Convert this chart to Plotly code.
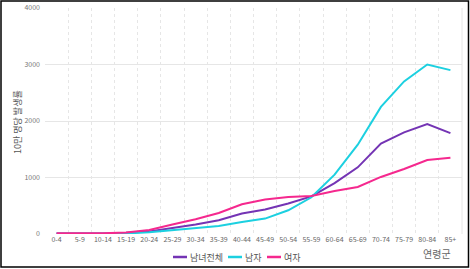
import plotly.graph_objects as go

ages = ["0-4", "5-9", "10-14", "15-19", "20-24", "25-29", "30-34", "35-39", "40-44",
        "45-49", "50-54", "55-59", "60-64", "65-69", "70-74", "75-79", "80-84", "85+"]
total = [10, 8, 10, 20, 45, 106, 167, 245, 362, 432, 540, 665, 900, 1180, 1600, 1800, 1945, 1785]
male = [8, 5, 5, 10, 30, 65, 96, 142, 213, 273, 420, 650, 1050, 1580, 2250, 2700, 3000, 2900]
female = [12, 10, 12, 25, 70, 167, 262, 372, 527, 610, 656, 673, 760, 833, 1010, 1150, 1310, 1350]

series = [("남녀전체", total, "#7434b4"), ("남자", male, "#1cd0e0"), ("여자", female, "#f5288e")]

FONT = "Noto Sans CJK KR"
fig = go.Figure()
for name, vals, col in series:
    fig.add_trace(go.Scatter(x=ages, y=vals, name=name, mode="lines",
                             line=dict(color=col, width=2), showlegend=False))

W, H = 470, 269
ml, mr, mt, mb = 45, 8, 8, 35
pw, ph = W - ml - mr, H - mt - mb

def px(x):
    return (x - ml) / pw

def py(y):
    return (H - mb - y) / ph

# custom legend (short line + label)
legend_x = [173, 228, 267]
legend_y = 257
shapes = []
annotations = []
for (name, _, col), lx in zip(series, legend_x):
    shapes.append(dict(type="line", xref="paper", yref="paper",
                       x0=px(lx), x1=px(lx + 14), y0=py(legend_y), y1=py(legend_y),
                       line=dict(color=col, width=2.5)))
    annotations.append(dict(text=name, xref="paper", yref="paper", x=px(lx + 15), y=py(legend_y),
                            xanchor="left", yanchor="middle", showarrow=False,
                            font=dict(size=9, color="#555")))

annotations.append(dict(text="연령군", xref="paper", yref="paper", x=px(453), y=py(253),
                        xanchor="right", yanchor="middle", showarrow=False,
                        font=dict(size=10, color="#666")))
annotations.append(dict(text="10만 명당 발생률", xref="paper", yref="paper", x=px(17), y=py(122),
                        xanchor="center", yanchor="middle", showarrow=False, textangle=-90,
                        font=dict(size=9, color="#555")))

shapes.append(dict(type="line", xref="paper", yref="paper", x0=1, x1=1, y0=0, y1=1,
                   line=dict(color="#e6e6e6", width=1)))
shapes.append(dict(type="rect", xref="paper", yref="paper",
                   x0=-(ml - 1) / pw, x1=1 + (mr - 1.5) / pw,
                   y0=-(mb - 2) / ph, y1=1 + (mt - 1) / ph,
                   line=dict(color="black", width=1.5), layer="above"))

fig.update_layout(
    width=W, height=H,
    margin=dict(l=ml, r=mr, t=mt, b=mb, autoexpand=False),
    paper_bgcolor="white", plot_bgcolor="white",
    font=dict(family=FONT, size=8, color="#666"),
    showlegend=False,
    xaxis=dict(type="category", tickson="boundaries", ticks="", showgrid=True,
               gridcolor="#e6e6e6", griddash="dot", gridwidth=1, tickangle=0,
               automargin=False,
               tickfont=dict(size=7, color="#666"), showline=False, zeroline=False,
               range=[-0.5, len(ages) - 0.5]),
    yaxis=dict(range=[0, 4000], dtick=1000, showgrid=True, gridcolor="#e6e6e6",
               gridwidth=1, zeroline=False, tickfont=dict(size=7, color="#777"),
               ticklabelstandoff=4, automargin=False),
    annotations=annotations,
    shapes=shapes,
)
fig.write_html("out.html")
